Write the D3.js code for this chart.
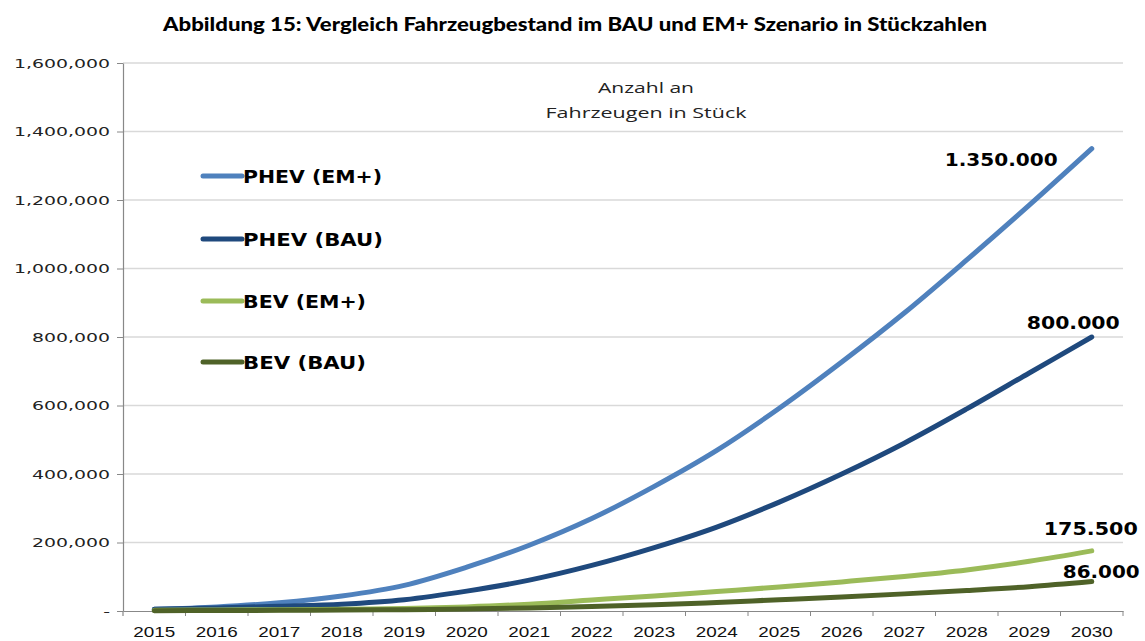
<!DOCTYPE html>
<html><head><meta charset="utf-8">
<script src="https://cdn.jsdelivr.net/npm/d3@7"></script>
<style>body{margin:0;background:#fff} svg{display:block}</style>
</head><body><svg id="c" width="1145" height="641"></svg>
<script>
const years = ["2015","2016","2017","2018","2019","2020","2021","2022","2023","2024","2025","2026","2027","2028","2029","2030"];
const phevEM  = [5000,12000,24000,44000,75000,128000,192000,270000,364000,469000,592000,727000,870000,1025000,1185000,1350000];
const phevBAU = [5000,9000,14000,20000,33000,58000,90000,133000,185000,245000,318000,400000,490000,590000,695000,800000];
const bevEM   = [2000,3000,4000,5000,7000,12000,20000,32000,44000,57000,70000,85000,101000,120000,145000,175500];
const bevBAU  = [1000,1500,2000,3000,4000,6000,9000,13000,18000,25000,33000,41000,50000,60000,71000,86000];
const seriesNames = ["PHEV (EM+)","PHEV (BAU)","BEV (EM+)","BEV (BAU)"];
const seriesColors = ["#4F81BD","#1F497D","#9BBB59","#4F6228"];
const endLabels = ["1.350.000","800.000","175.500","86.000"];
const yTicks = [0,200000,400000,600000,800000,1000000,1200000,1400000,1600000];
const titleText = "Abbildung 15: Vergleich Fahrzeugbestand im BAU und EM+ Szenario in Stückzahlen";
const noteLines = ["Anzahl an","Fahrzeugen  in Stück"];

const svg = d3.select("#c");
const L = 123, R = 1123, T = 63, B = 611;
const x = d3.scaleBand().domain(years).range([L, R]);
const y = d3.scaleLinear().domain([0, 1600000]).range([B, T]);
const cx = d => x(d) + x.bandwidth()/2;

function fit(sel, w){ sel.attr("textLength", w).attr("lengthAdjust","spacingAndGlyphs"); }

// title
const title = svg.append("text").attr("x", 163).attr("y", 31)
  .style("font-family","Lato, 'Open Sans', sans-serif").style("font-weight","900")
  .style("font-size","19.5px").attr("fill","#000").text(titleText);
fit(title, 824);

// gridlines
svg.append("g").selectAll("line").data(yTicks.slice(1)).join("line")
  .attr("x1", L).attr("x2", R).attr("y1", d=>y(d)).attr("y2", d=>y(d))
  .attr("stroke","#d9d9d9").attr("stroke-width",1.5);

// y axis
const yAxis = svg.append("g").attr("transform",`translate(${L},0)`)
  .call(d3.axisLeft(y).tickValues(yTicks).tickSize(6).tickSizeOuter(0)
    .tickFormat(d => d === 0 ? "-" : d3.format(",")(d)));
yAxis.select(".domain").attr("stroke","#888").attr("stroke-width",1.2);
yAxis.selectAll(".tick line").attr("stroke","#888");
yAxis.selectAll(".tick text").attr("x",-13)
  .style("font-family","'DejaVu Sans', Verdana, sans-serif").style("font-size","13px").attr("fill","#222");
let k = 1;
yAxis.selectAll(".tick text").each(function(d){ if(d===1600000) k = 96/this.getComputedTextLength(); });
yAxis.selectAll(".tick text").each(function(){ const w = this.getComputedTextLength(); d3.select(this).attr("textLength", w*k).attr("lengthAdjust","spacingAndGlyphs"); });
svg.append("line").attr("x1",L).attr("x2",L).attr("y1",B).attr("y2",B+5).attr("stroke","#888").attr("stroke-width",1.2);

// x axis
const xAxis = svg.append("g").attr("transform",`translate(0,${B})`)
  .call(d3.axisBottom(x).tickSize(0).tickSizeOuter(0));
xAxis.select(".domain").attr("stroke","#888").attr("stroke-width",1.2);
xAxis.selectAll(".tick text").attr("y",16).attr("dy","0.71em")
  .style("font-family","'Liberation Sans', Arial, sans-serif").style("font-size","14.5px").attr("fill","#111");
fit(xAxis.selectAll(".tick text"), 42);
svg.append("g").selectAll("line").data(years.slice(1).concat(["__end"])).join("line")
  .attr("x1", d => d==="__end" ? R : x(d)).attr("x2", d => d==="__end" ? R : x(d))
  .attr("y1", B).attr("y2", B+5).attr("stroke","#888").attr("stroke-width",1);

// lines
const allSeries = [phevEM, phevBAU, bevEM, bevBAU];
const line = d3.line().x((d,i)=>cx(years[i])).y(d=>y(d)).curve(d3.curveCatmullRom.alpha(0.5));
svg.append("g").selectAll("path").data(allSeries).join("path")
  .attr("d", d=>line(d)).attr("fill","none")
  .attr("stroke",(d,i)=>seriesColors[i]).attr("stroke-width",5)
  .attr("stroke-linecap","round").attr("stroke-linejoin","round");

// legend
const legY = [176, 239, 301, 362];
const legW = [139, 140, 123, 123];
const leg = svg.append("g").selectAll("g").data(seriesNames).join("g")
  .attr("transform",(d,i)=>`translate(0,${legY[i]})`);
leg.append("line").attr("x1",203).attr("x2",242).attr("y1",0).attr("y2",0)
  .attr("stroke",(d,i)=>seriesColors[i]).attr("stroke-width",5).attr("stroke-linecap","round");
leg.append("text").attr("x",243).attr("y",7)
  .style("font-family","'DejaVu Sans', Verdana, sans-serif").style("font-weight","bold")
  .style("font-size","18px").attr("fill","#000").text(d=>d)
  .each(function(d,i){ d3.select(this).attr("textLength",legW[i]).attr("lengthAdjust","spacingAndGlyphs"); });

// end labels
const last = years.length-1;
const lblDx = [-34, 28, 46, 48];
const lblDy = [17, -8, -16, -4];
const lblW = [113, 93, 94, 77];
svg.append("g").selectAll("text").data(endLabels).join("text")
  .attr("x",(d,i)=>cx(years[last]) + lblDx[i]).attr("y",(d,i)=>y(allSeries[i][last]) + lblDy[i])
  .attr("text-anchor","end")
  .style("font-family","'DejaVu Sans', Verdana, sans-serif").style("font-weight","bold")
  .style("font-size","18.5px").attr("fill","#000").text(d=>d)
  .each(function(d,i){ d3.select(this).attr("textLength",lblW[i]).attr("lengthAdjust","spacingAndGlyphs"); });

// note
const note = svg.append("g");
note.append("text").attr("x",646).attr("y",93).attr("text-anchor","middle")
  .style("font-family","'Open Sans', sans-serif").style("font-size","15px").attr("fill","#222")
  .text(noteLines[0]).attr("textLength",96).attr("lengthAdjust","spacingAndGlyphs");
note.append("text").attr("x",646).attr("y",118).attr("text-anchor","middle")
  .style("font-family","'Open Sans', sans-serif").style("font-size","15px").attr("fill","#222")
  .text(noteLines[1]).attr("textLength",201).attr("lengthAdjust","spacingAndGlyphs");
</script></body></html>
